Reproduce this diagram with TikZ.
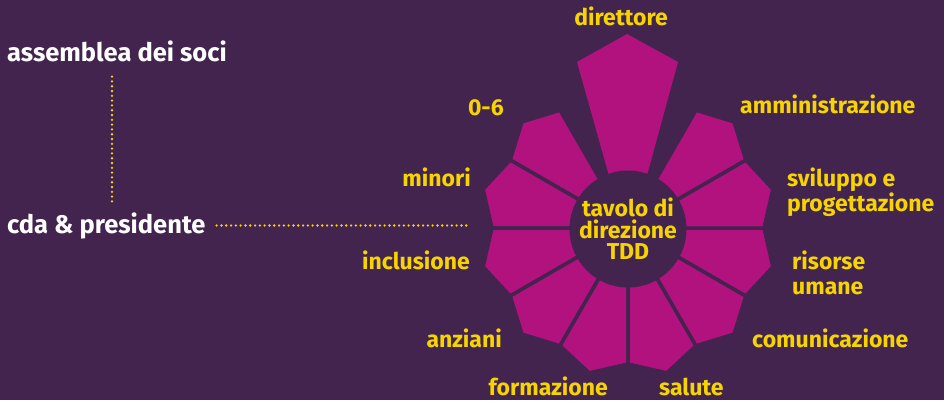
\documentclass[tikz,border=0pt]{standalone}
\usepackage{fontspec}
\setmainfont{Fira Sans}

\definecolor{night}{HTML}{43244F}
\definecolor{petalpink}{HTML}{B1127E}
\definecolor{gold}{HTML}{F5D400}

\tikzset{
  petal/.style={fill=petalpink, draw=night, line width=3.5pt, line join=miter},
  hub/.style={circle, fill=night, minimum size=117pt, inner sep=0pt, align=center,
    text=gold, font=\bfseries\fontsize{23}{21.5}\selectfont},
  area/.style={text=gold, inner sep=0pt, font=\bfseries\fontsize{23}{25}\selectfont},
  organ/.style={text=white, inner sep=0pt, font=\bfseries\fontsize{25.5}{27}\selectfont},
  dots/.style={gold, line width=2.6pt, line cap=round, dash pattern=on 0pt off 4.8pt},
}

\begin{document}
\begin{tikzpicture}[x=1pt,y=1pt]

  % purple background, it also fixes the size
  \fill [night] (0,0) rectangle (944,400);

  % assembly and board on the left
  \node[organ, anchor=base west] (soci) at (7,338) {assemblea dei soci};
  \node[organ, anchor=base west] (cda) at (7,167) {cda \& presidente};
  \coordinate (drop) at (112,0);
  \coordinate (reach) at (470,0);

  % dotted links
  \draw [dots, shorten <=14pt, shorten >=6pt] (soci.south -| drop) -- (cda.north -| drop);
  \draw [dots, shorten <=11pt] (cda.east) -- (cda.east -| reach);

  % the flower
  \begin{scope}[shift={(628,172)}]
    % long petal on top
    \fill [petalpink] (-51,166) -- (-1,194) -- (50,166) -- (15,38) -- (-15,38) -- cycle;

    % ten small petals round the bottom
    \foreach \a in {120,150,...,390} {
      \filldraw [petal] (0,0) -- (\a:136) -- (\a+15:150) -- (\a+30:136) -- cycle;
    }

    \node[hub] (tdd) at (0,-1) {tavolo di\\direzione\\TDD};
  \end{scope}

  % labels of the petals
  \node[area, anchor=base] (dir) at (621,374) {direttore};
  \node[area, anchor=base west] (amm) at (740,287) {amministrazione};
  \node[area, anchor=base west, align=left] (svi) at (787,189) {sviluppo e\\progettazione};
  \node[area, anchor=base west, align=left] (ris) at (792,106) {risorse\\umane};
  \node[area, anchor=base west] (com) at (752,53) {comunicazione};
  \node[area, anchor=base west] (sal) at (659,5) {salute};
  \node[area, anchor=base east] (for) at (608,5) {formazione};
  \node[area, anchor=base east] (anz) at (502,53) {anziani};
  \node[area, anchor=base east] (inc) at (470,131) {inclusione};
  \node[area, anchor=base east] (min) at (471,214) {minori};
  \node[area, anchor=base east] (zero) at (504,285) {0-6};

\end{tikzpicture}
\end{document}
